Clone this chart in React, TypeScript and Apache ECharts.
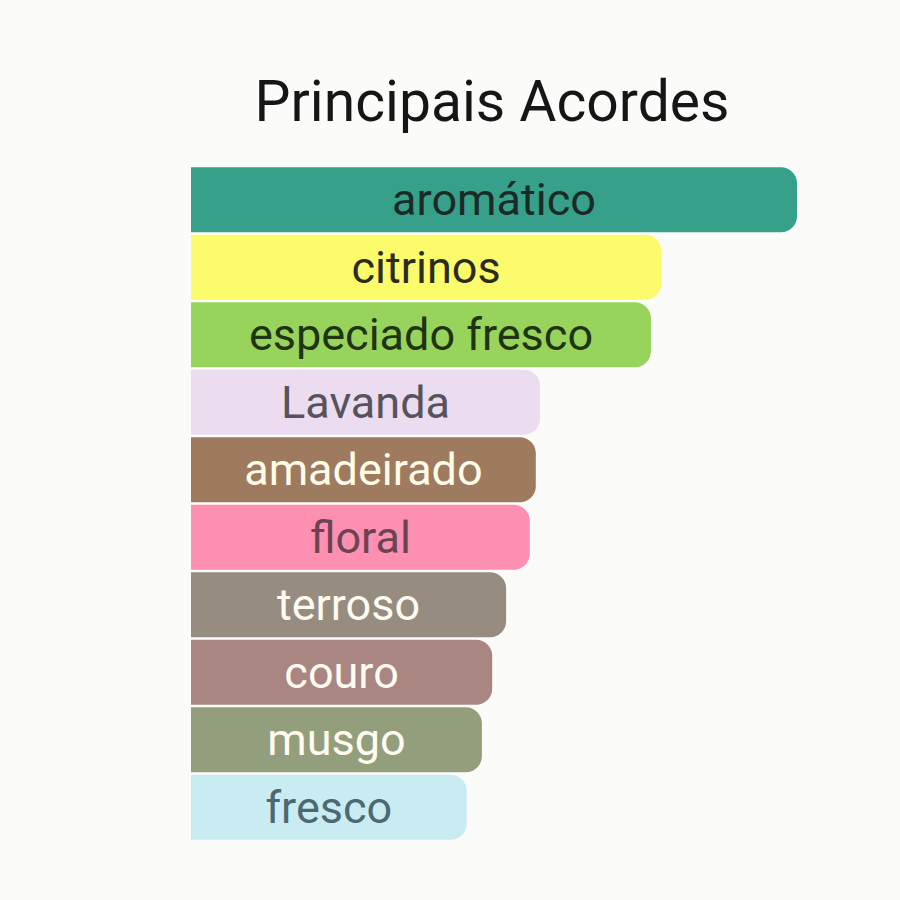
import { useEffect, useRef } from "react";
import * as echarts from "echarts";

const accords = [
  "aromático",
  "citrinos",
  "especiado fresco",
  "Lavanda",
  "amadeirado",
  "floral",
  "terroso",
  "couro",
  "musgo",
  "fresco",
];

// relative strength (%)
const strength = [100, 77.6, 75.9, 57.6, 56.9, 55.9, 52, 49.7, 48, 45.5];

const barColors = [
  "#36a08a",
  "#fcfb6c",
  "#98d35c",
  "#ebdcef",
  "#9e7b5f",
  "#fd8fb1",
  "#978c80",
  "#a98682",
  "#939f7c",
  "#c9ecf3",
];

const labelColors = [
  "#1c2a25",
  "#2c2c1c",
  "#1f3413",
  "#57525c",
  "#fffbe9",
  "#6a4453",
  "#fffbf0",
  "#fffbf0",
  "#fffbf0",
  "#4d6871",
];

export default function App() {
  const ref = useRef<HTMLDivElement>(null);

  useEffect(() => {
    if (!ref.current) return;
    const chart = echarts.init(ref.current, null, { renderer: "svg" });

    chart.setOption({
      animation: false,
      backgroundColor: "#fbfcfa",
      title: {
        text: "Principais Acordes",
        left: 487,
        top: 68,
        textAlign: "center",
        textStyle: {
          fontFamily: "Roboto",
          fontSize: 57,
          fontWeight: 400,
          color: "#161616",
        },
      },
      grid: { left: 191, right: 103, top: 166, bottom: 59 },
      xAxis: { type: "value", min: 0, max: 100, show: false },
      yAxis: {
        type: "category",
        inverse: true,
        data: accords,
        show: false,
      },
      series: [
        {
          type: "bar",
          barWidth: 65,
          data: strength.map((v, i) => ({
            value: v,
            itemStyle: { color: barColors[i] },
            label: { color: labelColors[i] },
          })),
          itemStyle: { borderRadius: [0, 16, 16, 0] },
          label: {
            show: true,
            position: "inside",
            formatter: (p: { name: string }) => p.name,
            fontFamily: "Roboto",
            fontSize: 45,
          },
        },
      ],
    });

    return () => chart.dispose();
  }, []);

  return (
    <div
      ref={ref}
      style={{ position: "absolute", left: 0, top: 0, width: 900, height: 900 }}
    />
  );
}
